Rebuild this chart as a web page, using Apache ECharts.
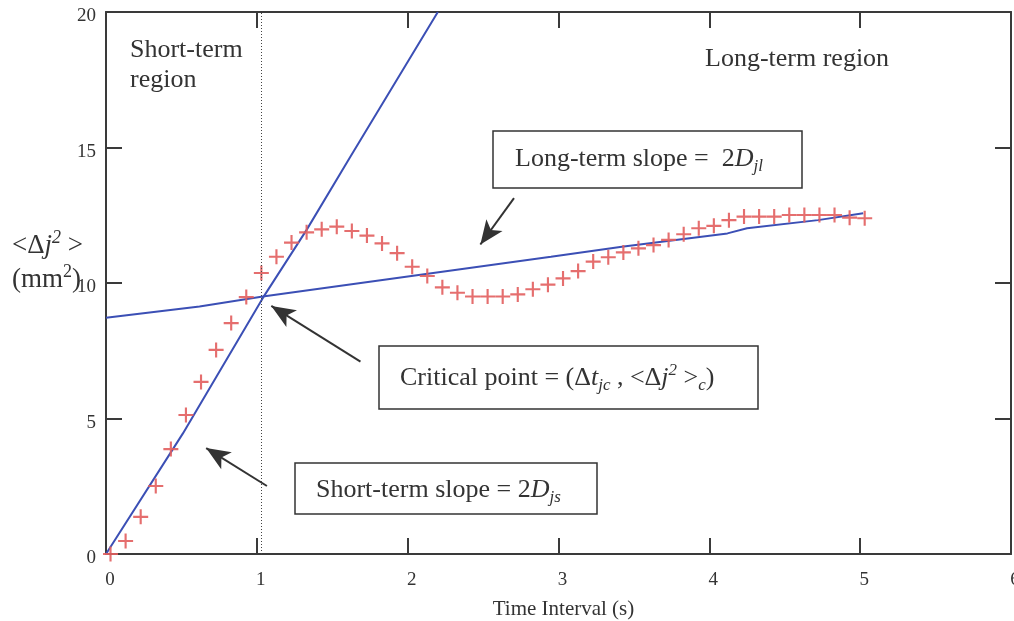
<!DOCTYPE html>
<html>
<head>
<meta charset="utf-8">
<script src="https://cdn.jsdelivr.net/npm/echarts@6/dist/echarts.min.js"></script>
<style>
  html, body { margin: 0; padding: 0; background: #fff; }
  #chart { width: 1014px; height: 621px; }
</style>
</head>
<body>
<div id="chart"></div>
<script>
// Measured mean-square displacement <Δj²> (mm²) against time interval (s)
const timeLag = [0.03, 0.13, 0.23, 0.33, 0.43, 0.53, 0.63, 0.73, 0.83, 0.93,
                 1.03, 1.13, 1.23, 1.33, 1.43, 1.53, 1.63, 1.73, 1.83, 1.93,
                 2.03, 2.13, 2.23, 2.33, 2.43, 2.53, 2.63, 2.73, 2.83, 2.93,
                 3.03, 3.13, 3.23, 3.33, 3.43, 3.53, 3.63, 3.73, 3.83, 3.93,
                 4.03, 4.13, 4.23, 4.33, 4.43, 4.53, 4.63, 4.73, 4.83, 4.93,
                 5.03];
const msd = [0, 0.48, 1.37, 2.51, 3.87, 5.13, 6.35, 7.53, 8.52, 9.48,
             10.37, 10.97, 11.49, 11.87, 11.98, 12.08, 11.92, 11.75, 11.46, 11.10,
             10.60, 10.26, 9.84, 9.64, 9.50, 9.50, 9.50, 9.58, 9.77, 9.94,
             10.17, 10.44, 10.79, 10.95, 11.13, 11.28, 11.40, 11.59, 11.80, 12.02,
             12.11, 12.32, 12.45, 12.45, 12.45, 12.51, 12.51, 12.51, 12.51, 12.41,
             12.39];

// Short-term fitted line (slope 2D_js)
const shortFitT = [0, 0.51, 1.04, 1.33, 1.62, 2.2];
const shortFitY = [0, 4.45, 9.45, 11.96, 14.66, 20];

// Long-term fitted line (slope 2D_jl)
const longFitT = [0, 0.62, 1.04, 2.95, 3.42, 4.12, 4.25, 4.72, 5.02];
const longFitY = [8.72, 9.13, 9.5, 10.97, 11.34, 11.83, 12.02, 12.32, 12.57];

// Critical time interval where the two regimes meet
const criticalT = 1.035;

// Axis ticks
const xTicks = [0, 1, 2, 3, 4, 5, 6];
const yTicks = [0, 5, 10, 15, 20];

// Annotation arrows: [tailT, tailY, headT, headY]
const arrowLong = [2.705, 13.13, 2.482, 11.42];
const arrowCritical = [1.687, 7.10, 1.096, 9.155];
const arrowShort = [1.067, 2.51, 0.664, 3.91];

const SERIF = "'Liberation Serif', 'Times New Roman', serif";
const INK = '#333';
const BLUE = '#3b4fb5';
const RED = '#e25e5e';

const zip = (a, b) => a.map((v, i) => [v, b[i]]);

function richSet(size) {
  const small = Math.round(size * 0.65);
  return {
    n:   { fontFamily: SERIF, fontSize: size, lineHeight: size + 6, fill: INK },
    i:   { fontFamily: SERIF, fontSize: size, lineHeight: size + 6, fontStyle: 'italic', fill: INK },
    sub: { fontFamily: SERIF, fontSize: small, lineHeight: small - 2, fontStyle: 'italic', verticalAlign: 'bottom', fill: INK },
    sup: { fontFamily: SERIF, fontSize: small, lineHeight: small, fontStyle: 'italic', verticalAlign: 'top', fill: INK },
    supn:{ fontFamily: SERIF, fontSize: small, lineHeight: small, verticalAlign: 'top', fill: INK }
  };
}
const richNote = richSet(26);
const richTitle = richSet(27);

function label(x, y, text, rich) {
  rich = rich || richNote;
  return {
    type: 'text', x: x, y: y, silent: true, z: 100,
    style: {
      text: text, rich: rich, fontFamily: SERIF, fontSize: rich.n.fontSize, fill: INK,
      align: 'left', verticalAlign: 'middle'
    }
  };
}
function box(x, y, w, h) {
  return {
    type: 'rect', silent: true, z: 90,
    shape: { x: x, y: y, width: w, height: h },
    style: { fill: '#fff', stroke: INK, lineWidth: 1.5 }
  };
}
function arrow(a) {
  return [
    { coord: [a[0], a[1]], symbol: 'none' },
    { coord: [a[2], a[3]], symbol: 'arrow', symbolSize: [15, 24] }
  ];
}

const axisLineStyle = { color: '#3a3a3a', width: 2 };
const frameLine = { show: true, onZero: false, lineStyle: axisLineStyle };
const tickStyle = { show: true, inside: true, length: 16, lineStyle: { color: '#3a3a3a', width: 2 } };

const chart = echarts.init(document.getElementById('chart'), null, { renderer: 'canvas' });

chart.setOption({
  animation: false,
  backgroundColor: '#fff',
  grid: { left: 106, right: 3, top: 12, bottom: 67, containLabel: false, outerBoundsMode: 'none' },
  xAxis: [
    {
      type: 'value', min: xTicks[0], max: xTicks[xTicks.length - 1], interval: 1,
      position: 'bottom',
      axisLine: frameLine,
      axisTick: tickStyle,
      splitLine: { show: false },
      axisLabel: { color: INK, fontFamily: SERIF, fontSize: 19, margin: 17, padding: [0, 0, 0, 8],
                   hideOverlap: false, alignMaxLabel: 'center', alignMinLabel: 'center' },
      name: 'Time Interval (s)',
      nameLocation: 'middle', nameGap: 45,
      nameTextStyle: { color: INK, fontFamily: SERIF, fontSize: 21, padding: [0, 0, 0, 10] }
    },
    {
      type: 'value', min: xTicks[0], max: xTicks[xTicks.length - 1], interval: 1,
      position: 'top',
      axisLine: frameLine,
      axisTick: tickStyle,
      splitLine: { show: false },
      axisLabel: { show: false }
    }
  ],
  yAxis: [
    {
      type: 'value', min: yTicks[0], max: yTicks[yTicks.length - 1], interval: 5,
      position: 'left',
      axisLine: frameLine,
      axisTick: tickStyle,
      splitLine: { show: false },
      axisLabel: {
        margin: 10,
        formatter: function (v) { return '{v|' + v + '}'; },
        rich: { v: { color: INK, fontFamily: SERIF, fontSize: 19, padding: [9, 0, 0, 0] } }
      }
    },
    {
      type: 'value', min: yTicks[0], max: yTicks[yTicks.length - 1], interval: 5,
      position: 'right',
      axisLine: frameLine,
      axisTick: tickStyle,
      splitLine: { show: false },
      axisLabel: { show: false }
    }
  ],
  series: [
    {
      name: 'Long-term fit',
      type: 'line',
      data: zip(longFitT, longFitY),
      showSymbol: false,
      lineStyle: { color: BLUE, width: 2 },
      z: 3,
      markLine: {
        silent: true,
        animation: false,
        label: { show: false },
        lineStyle: { color: INK, width: 2, type: 'solid' },
        itemStyle: { color: INK },
        data: [arrow(arrowLong), arrow(arrowCritical), arrow(arrowShort)]
      }
    },
    {
      name: 'Short-term fit',
      type: 'line',
      data: zip(shortFitT, shortFitY),
      showSymbol: false,
      lineStyle: { color: BLUE, width: 2 },
      z: 3,
      markLine: {
        silent: true,
        animation: false,
        symbol: 'none',
        label: { show: false },
        lineStyle: { color: '#444', width: 1, type: [1, 2] },
        data: [{ xAxis: criticalT }]
      }
    },
    {
      name: '<Δj²>',
      type: 'scatter',
      data: zip(timeLag, msd),
      symbol: 'path://M6,0h2v6h6v2h-6v6h-2v-6h-6v-2h6z',
      symbolSize: 15,
      itemStyle: { color: RED, opacity: 0.9 },
      z: 4
    }
  ],
  graphic: [
    // y-axis title
    label(12, 246, '{n|<Δ}{i|j}{sup|2}{n| >}', richTitle),
    label(12, 280, '{n|(mm}{supn|2}{n|)}', richTitle),
    // region labels
    label(130, 50, '{n|Short-term}'),
    label(130, 80, '{n|region}'),
    label(705, 59, '{n|Long-term region}'),
    // boxed annotations
    box(493, 131, 309, 57),
    label(515, 159, '{n|Long-term slope =  2}{i|D}{sub|jl}'),
    box(379, 346, 379, 63),
    label(400, 378, '{n|Critical point = (Δ}{i|t}{sub|jc}{n| , <Δ}{i|j}{sup|2}{n| >}{sub|c}{n|)}'),
    box(295, 463, 302, 51),
    label(316, 490, '{n|Short-term slope = 2}{i|D}{sub|js}')
  ]
});
</script>
</body>
</html>
